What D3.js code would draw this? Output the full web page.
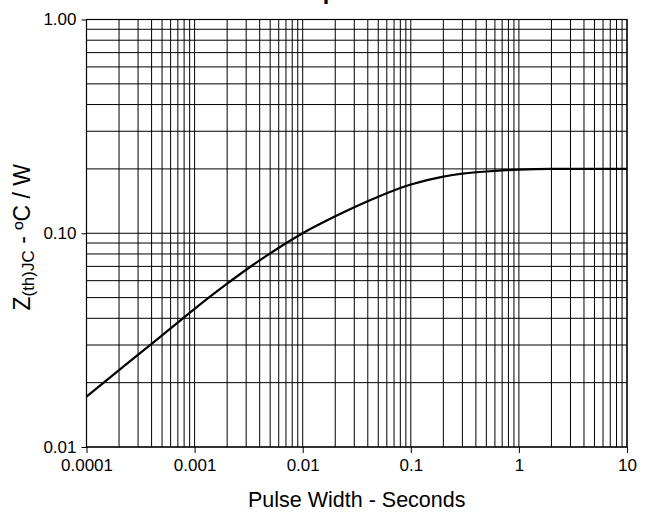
<!DOCTYPE html>
<html>
<head>
<meta charset="utf-8">
<script src="https://cdn.jsdelivr.net/npm/d3@7"></script>
<style>
  html, body { margin: 0; padding: 0; background: #fff; }
  svg { display: block; font-family: Arial, "Liberation Sans", sans-serif; }
</style>
</head>
<body>
<svg id="chart" width="651" height="517"></svg>
<script>
// Transient thermal impedance, junction-to-case, vs. pulse width
const pulseWidth = [0.0001, 0.0002, 0.0004, 0.0008, 0.001, 0.002, 0.003, 0.005, 0.007,
                    0.01, 0.02, 0.03, 0.05, 0.1, 0.2, 0.3, 0.5, 1, 2, 10];
const zthJC      = [0.0172, 0.0229, 0.0304, 0.0404, 0.0443, 0.0581, 0.0675, 0.0805, 0.0898,
                    0.100, 0.120, 0.1324, 0.1483, 0.169, 0.184, 0.190, 0.1945, 0.1986, 0.200, 0.200];

const xTickValues = [0.0001, 0.001, 0.01, 0.1, 1, 10];
const xTickLabels = ["0.0001", "0.001", "0.01", "0.1", "1", "10"];
const yTickValues = [0.01, 0.1, 1];
const yTickLabels = ["0.01", "0.10", "1.00"];

const titleText = "Transient Thermal Impedance";
const xTitle = "Pulse Width - Seconds";

const svg = d3.select("#chart");
const m = { left: 86.5, right: 627, top: 19.5, bottom: 447 };

const x = d3.scaleLog().domain([0.0001, 10]).range([m.left, m.right]);
const y = d3.scaleLog().domain([0.01, 1]).range([m.bottom, m.top]);

// Full log grid: 1..9 within every decade
const xGrid = [];
for (let e = -4; e < 1; e++) for (let k = 1; k <= 9; k++) xGrid.push(k * Math.pow(10, e));
xGrid.push(10);
const yGrid = [];
for (let e = -2; e < 0; e++) for (let k = 1; k <= 9; k++) yGrid.push(k * Math.pow(10, e));
yGrid.push(1);

const grid = svg.append("g").attr("stroke", "#000").attr("stroke-width", 1);
grid.selectAll("line.v").data(xGrid).join("line").attr("class", "v")
  .attr("x1", d => x(d)).attr("x2", d => x(d))
  .attr("y1", m.top).attr("y2", m.bottom);
grid.selectAll("line.h").data(yGrid).join("line").attr("class", "h")
  .attr("x1", m.left).attr("x2", m.right)
  .attr("y1", d => y(d)).attr("y2", d => y(d));

// Frame
svg.append("rect")
  .attr("x", m.left).attr("y", m.top)
  .attr("width", m.right - m.left).attr("height", m.bottom - m.top)
  .attr("fill", "none").attr("stroke", "#000").attr("stroke-width", 1.2);

// Axes
const xAxis = d3.axisBottom(x).tickValues(xTickValues)
  .tickFormat((d, i) => xTickLabels[i]).tickSizeInner(6).tickSizeOuter(0).tickPadding(6);
const gx = svg.append("g").attr("transform", `translate(0,${m.bottom})`).call(xAxis);
gx.select(".domain").remove();
gx.selectAll("text").attr("font-size", 17).attr("fill", "#000")
  .attr("font-family", "Arial, 'Liberation Sans', sans-serif");

const yAxis = d3.axisLeft(y).tickValues(yTickValues)
  .tickFormat((d, i) => yTickLabels[i]).tickSizeInner(5).tickSizeOuter(0).tickPadding(5);
const gy = svg.append("g").attr("transform", `translate(${m.left},0)`).call(yAxis);
gy.select(".domain").remove();
gy.selectAll("text").attr("font-size", 17).attr("fill", "#000")
  .attr("font-family", "Arial, 'Liberation Sans', sans-serif");

// Curve
const line = d3.line().x(d => x(d[0])).y(d => y(d[1])).curve(d3.curveMonotoneX);
svg.append("path")
  .datum(pulseWidth.map((p, i) => [p, zthJC[i]]))
  .attr("d", line).attr("fill", "none")
  .attr("stroke", "#000").attr("stroke-width", 2.2);

// Titles
svg.append("text").attr("x", 418).attr("y", -1)
  .attr("text-anchor", "end").attr("font-size", 23.5).attr("font-weight", "bold")
  .text(titleText);

svg.append("text").attr("x", (m.left + m.right) / 2).attr("y", 507)
  .attr("text-anchor", "middle").attr("font-size", 21.5).text(xTitle);

const yt = svg.append("text")
  .attr("transform", `translate(30,${(m.top + m.bottom) / 2 + 4}) rotate(-90)`)
  .attr("text-anchor", "middle").attr("font-size", 23);
yt.append("tspan").text("Z");
yt.append("tspan").attr("font-size", 17).attr("dy", 4).text("(th)JC");
yt.append("tspan").attr("dy", -4).text(" - ºC / W");
</script>
</body>
</html>
